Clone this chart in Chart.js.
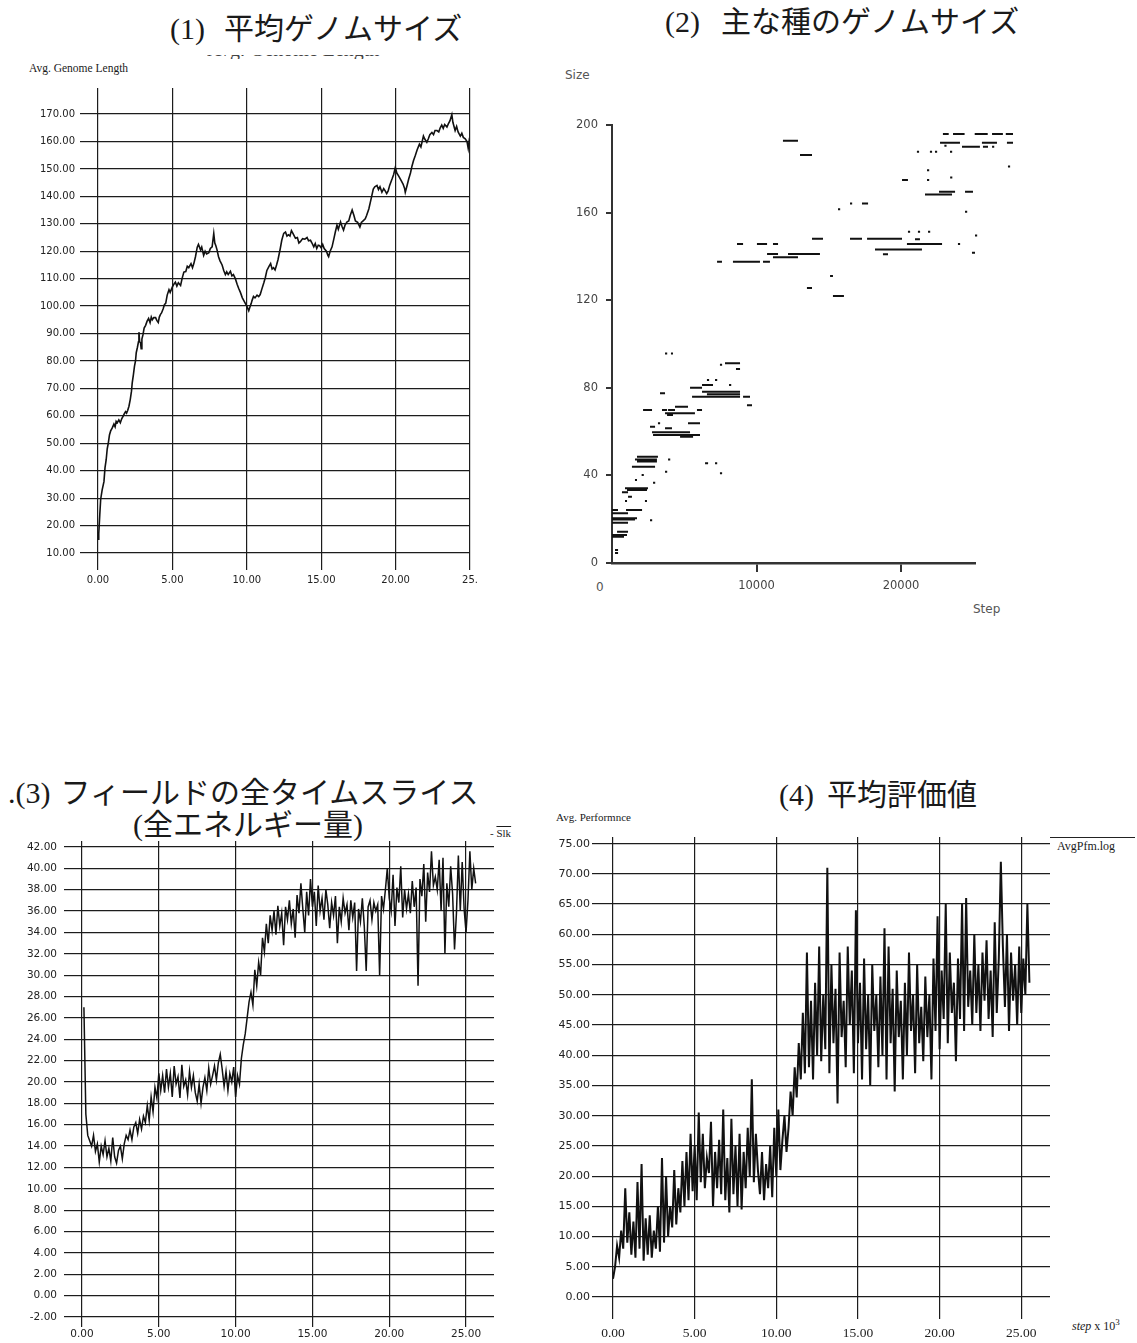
<!DOCTYPE html>
<html>
<head>
<meta charset="utf-8">
<script src="https://cdn.jsdelivr.net/npm/chart.js@4.4.1/dist/chart.umd.min.js"></script>
<style>
  body { margin: 0; background: #fff; }
  #page { position: relative; width: 1137px; height: 1343px; overflow: hidden; background: #fff; }
  .box { position: absolute; }
  .txt { position: absolute; white-space: nowrap; color: #1a1a1a; }
  .title { font-family: "Liberation Serif", "Noto Sans CJK JP", serif; font-size: 30px; line-height: 30px; }
  .small { font-family: "Liberation Serif", serif; font-size: 11.5px; line-height: 12px; }
  .dot { font-family: "DejaVu Sans", sans-serif; font-size: 12px; line-height: 14px; color: #555; }
</style>
</head>
<body>
<div id="page">
  <!-- titles -->
  <div class="txt title" style="left:170px;top:14px">(1)<span style="margin-left:19px">平均ゲノムサイズ</span></div>
  <div class="txt title" style="left:665px;top:7px">(2)<span style="margin-left:21px">主な種のゲノムサイズ</span></div>
  <div class="txt title" style="left:8px;top:778px">.(3)<span style="margin-left:10px">フィールドの全タイムスライス</span></div>
  <div class="txt title" style="left:133px;top:810px">(全エネルギー量)</div>
  <div class="txt title" style="left:779px;top:780px">(4)<span style="margin-left:13px">平均評価値</span></div>

  <!-- cut-off caption under title 1 -->
  <div style="position:absolute;left:207px;top:55px;width:180px;height:4px;overflow:hidden">
    <div style="position:absolute;left:0;top:-16px;white-space:nowrap;font-family:'Liberation Serif',serif;font-size:20px;line-height:20px;color:#444">Avg. Genome Length</div>
  </div>

  <!-- axis captions -->
  <div class="txt small" style="left:29px;top:62px">Avg. Genome Length</div>
  <div class="txt dot" style="left:565px;top:68px">Size</div>
  <div class="txt dot" style="left:973px;top:602px">Step</div>
  <div class="txt dot" style="left:596px;top:580px">0</div>
  <div class="txt small" style="left:490px;top:827px;font-size:11px">- <span style="text-decoration:overline">Slk</span></div>
  <div class="txt small" style="left:556px;top:811px;font-size:11px">Avg. Performnce</div>
  <div style="position:absolute;left:1050px;top:837px;width:85px;height:1px;background:#222"></div>
  <div class="txt small" style="left:1057px;top:840px;font-size:12px">AvgPfm.log</div>
  <div class="txt small" style="left:1072px;top:1316px;font-size:12px"><i>step</i> x 10<sup style="font-size:9px">3</sup></div>

  <div class="box" style="left:0;top:68px;width:500px;height:530px"><canvas id="c1"></canvas></div>
  <div class="box" style="left:540px;top:100px;width:597px;height:510px"><canvas id="c2"></canvas></div>
  <div class="box" style="left:0;top:821px;width:520px;height:522px"><canvas id="c3"></canvas></div>
  <div class="box" style="left:540px;top:817px;width:597px;height:526px"><canvas id="c4"></canvas></div>
</div>
<script>
// (1) average genome length, step x 10^3
const genomeStep = [0.0, 0.05, 0.12, 0.18, 0.28, 0.4, 0.47, 0.55, 0.62, 0.69, 0.77, 0.85, 0.95, 1.07, 1.15, 1.22, 1.3, 1.4, 1.5, 1.6,
  1.7, 1.77, 1.85, 1.92, 2.0, 2.08, 2.17, 2.25, 2.3, 2.38, 2.45, 2.52, 2.57, 2.65, 2.72, 2.75, 2.8, 2.86, 2.9, 2.95,
  3.02, 3.1, 3.2, 3.3, 3.4, 3.5, 3.58, 3.65, 3.75, 3.87, 3.95, 4.05, 4.12, 4.2, 4.27, 4.38, 4.47, 4.55, 4.65, 4.77,
  4.85, 5.0, 5.1, 5.2, 5.3, 5.4, 5.55, 5.65, 5.77, 5.9, 6.0, 6.1, 6.25, 6.35, 6.44, 6.55, 6.67, 6.75, 6.89, 6.97,
  7.1, 7.2, 7.3, 7.45, 7.55, 7.67, 7.78, 7.85, 7.92, 8.0, 8.1, 8.2, 8.34, 8.45, 8.56, 8.65, 8.75, 8.9, 9.0, 9.1,
  9.23, 9.35, 9.45, 9.57, 9.7, 9.8, 9.9, 10.0, 10.13, 10.2, 10.3, 10.35, 10.45, 10.55, 10.69, 10.8, 10.9, 11.0, 11.15, 11.25,
  11.35, 11.5, 11.6, 11.7, 11.8, 11.9, 12.0, 12.1, 12.25, 12.35, 12.48, 12.6, 12.7, 12.8, 12.9, 13.0, 13.1, 13.27, 13.4, 13.5,
  13.6, 13.75, 13.9, 14.05, 14.15, 14.28, 14.38, 14.5, 14.6, 14.7, 14.8, 14.9, 15.0, 15.1, 15.2, 15.35, 15.45, 15.5, 15.6, 15.73,
  15.85, 15.95, 16.06, 16.15, 16.3, 16.4, 16.5, 16.6, 16.74, 16.85, 16.95, 17.08, 17.2, 17.3, 17.45, 17.6, 17.7, 17.8, 17.96, 18.05,
  18.2, 18.35, 18.5, 18.6, 18.75, 18.85, 18.95, 19.08, 19.2, 19.3, 19.4, 19.5, 19.6, 19.76, 19.87, 19.98, 20.08, 20.2, 20.35, 20.5,
  20.6, 20.65, 20.75, 20.88, 21.0, 21.1, 21.2, 21.33, 21.45, 21.6, 21.7, 21.87, 21.95, 22.1, 22.2, 22.3, 22.44, 22.55, 22.65, 22.78,
  22.9, 23.0, 23.1, 23.2, 23.3, 23.45, 23.55, 23.65, 23.78, 23.85, 24.0, 24.1, 24.2, 24.35, 24.45, 24.55, 24.68, 24.8, 24.88, 24.95, 25.0];
const genomeLen = [15, 17, 24, 29.6, 33, 36, 41, 44, 48, 50, 53, 54.5, 55.5, 57, 56, 58, 57.5, 58.5, 57.5, 59,
  60, 60.8, 61.5, 61, 62, 63.5, 66, 69, 72, 75, 78, 80, 83, 85, 87, 90.5, 87, 86.6, 84.5, 88,
  89.5, 92, 93, 94.5, 95.5, 94, 96, 95, 95.8, 95.8, 94.8, 94, 96, 97, 97.5, 99, 100.6, 101, 104, 106,
  105, 107, 108, 108.7, 107.3, 108.5, 107.5, 110, 112.4, 112.6, 114.5, 114, 115.5, 114, 115.5, 118, 121.5, 122.5, 120.5, 121.5,
  118.5, 120, 119, 119.5, 121, 121.6, 126.5, 123, 122, 120.5, 118, 116.5, 115, 113, 111.5, 112.5, 111.5, 112.7, 111, 111.5,
  110, 108, 106.5, 105, 103, 102, 101, 100, 98.3, 99.5, 101, 102, 103.5, 103, 104, 103.5, 104.2, 106, 108.6, 110.5,
  113, 114.6, 115.5, 113.5, 114, 113.2, 115, 117, 121, 124, 126.5, 127, 125.5, 126, 125.5, 127.5, 126.5, 124.7, 125, 123,
  123.5, 124.6, 124.4, 125, 123.8, 124, 123, 121.6, 122.8, 121, 122.2, 122, 121.2, 122.5, 121, 120, 118.5, 118, 120, 121.6,
  124.5, 127, 129.5, 128, 130.7, 129, 127.7, 129.5, 130.7, 131, 133, 135, 133, 131, 130.5, 128.8, 130.5, 131, 131.8, 133,
  135.4, 139, 142.7, 143.5, 144, 142.5, 143.5, 141.5, 142.8, 142, 141, 142, 144, 146.3, 148, 150.5, 148.5, 147.5, 146, 144.5,
  143, 141.5, 143.5, 146.3, 148.5, 151, 153, 155, 157, 159, 158, 162, 161, 159.7, 161, 162.5, 163.3, 162.5, 164, 164,
  163.5, 165, 166, 164.8, 166.2, 165.3, 166.5, 167.5, 169.8, 167, 164, 165.5, 163.5, 162, 163, 161.5, 161, 160, 157.5, 160.5, 160];
const genomeXTicks = [0, 5, 10, 15, 20, 25];
const genomeXLabels = ["0.00", "5.00", "10.00", "15.00", "20.00", "25."];
const genomeYTicks = [10, 20, 30, 40, 50, 60, 70, 80, 90, 100, 110, 120, 130, 140, 150, 160, 170];

// (2) genome size of main species: [from step, to step, size]
const speciesSegs = [
  [22900, 23300, 195.9], [23600, 24400, 195.9], [25100, 26000, 195.9], [26300, 27050, 195.9], [27250, 27750, 195.9],
  [22700, 24080, 191.9], [25600, 26640, 191.9], [27330, 27750, 191.9], [11830, 12870, 192.8],
  [24220, 25460, 190.1], [25670, 26020, 190.1], [26300, 26450, 190.1], [23000, 23150, 190.5],
  [21100, 21250, 187.8], [22000, 22150, 187.8], [22350, 22500, 187.8], [23390, 23540, 187.8],
  [13010, 13840, 186.3], [27400, 27550, 181], [21800, 21950, 179.3],
  [20070, 20480, 174.9], [21800, 21950, 174.9], [23400, 23550, 176],
  [22630, 23740, 169.5], [24430, 24980, 169.5], [21660, 23530, 168.3],
  [16470, 16620, 164.2], [17300, 17720, 164.2], [15640, 15790, 161.5], [24430, 24580, 160.4],
  [20480, 20630, 151.3], [21170, 21320, 151.3], [21870, 22020, 151.3], [25120, 25270, 149.5],
  [13840, 14600, 148.1], [16470, 17300, 148.1], [17650, 20070, 148.1], [20970, 21310, 147.8],
  [8650, 9070, 145.7], [10030, 10730, 145.7], [11140, 11490, 145.7], [20410, 22840, 145.7], [23940, 24090, 145.7],
  [18200, 21450, 143.2], [24910, 25120, 141.7],
  [10730, 11490, 141.1], [12180, 14390, 141.1], [18750, 19100, 141], [11140, 12870, 139.6],
  [7270, 7610, 137.6], [8370, 10240, 137.6], [10450, 10930, 137.6],
  [15090, 15290, 131], [13490, 13840, 125.6], [15290, 16050, 121.9],
  [3670, 3820, 95.7], [4080, 4220, 95.7], [7470, 7620, 90.5], [7820, 8860, 91.2], [8580, 8860, 88.6],
  [6570, 6720, 83.6], [7130, 7280, 83.6], [6230, 6990, 81.3], [8100, 8250, 81.3], [5400, 6230, 80],
  [6230, 8860, 78.2], [3320, 3670, 77.5], [6570, 8860, 77], [5540, 8860, 75.9], [9070, 9550, 75.9],
  [9340, 9690, 72], [4360, 5260, 71.4],
  [2150, 2770, 69.9], [3460, 3810, 69.9], [3880, 4360, 69.9], [5880, 6230, 69.9],
  [3670, 5740, 68.4], [3810, 4220, 67.6], [3180, 3330, 63.8], [5260, 6090, 63.8], [2630, 2980, 62.2], [3670, 4150, 61.5],
  [2770, 5400, 59.7], [2840, 6090, 58.4], [4710, 5610, 57.7],
  [1730, 3180, 48.5], [1590, 3110, 47.3], [3880, 4030, 47.3], [1730, 3110, 46.3], [6440, 6650, 45.5], [7130, 7280, 45.5],
  [1380, 2980, 44], [3670, 3820, 41.7], [7470, 7620, 41], [2050, 2200, 40.2], [1590, 1730, 37.9], [2840, 2990, 36.6],
  [900, 2490, 34.1], [1040, 2420, 33.3], [690, 1110, 32.3], [1110, 1380, 30.3], [900, 1040, 28.3], [2280, 2420, 28.3],
  [0, 415, 24.2], [970, 2080, 24.2], [0, 1110, 22.7], [0, 1730, 20.4], [0, 1590, 19.9], [2630, 2780, 19.5], [0, 1110, 18.4],
  [350, 1110, 14.3], [0, 1040, 12.8], [0, 830, 12], [210, 420, 5.9], [210, 420, 4.6]
];
const speciesXTicks = [10000, 20000];
const speciesYTicks = [0, 40, 80, 120, 160, 200];

// (3) total energy of the field (Slk), sampled every 0.125 x 10^3 steps
const slkStart = 0.125, slkStep = 0.125;
const slk = [
  27.0, 17.0, 15.0, 14.5, 14.0, 15.0, 13.5, 14.2,
  12.5, 14.0, 13.2, 14.5, 13.0, 13.8, 12.6, 14.8,
  13.0, 12.4, 13.6, 14.0, 12.8, 14.2, 15.0, 14.6,
  15.5, 14.6, 15.8, 16.2, 15.2, 16.5, 15.6, 16.8,
  16.2, 17.8, 16.4, 18.6, 17.2, 19.5, 18.5, 20.8,
  19.2, 20.6, 19.0, 21.2, 19.5, 20.8, 18.6, 21.5,
  19.8, 20.5, 18.5, 21.6, 19.6, 20.2, 18.8, 21.0,
  19.5, 20.6, 19.0, 18.2, 19.8, 18.0, 19.5, 20.4,
  19.2, 21.3, 19.8, 20.6, 21.5, 20.2, 21.8, 22.6,
  21.2, 19.6, 21.0, 19.2, 20.8, 20.0, 21.4, 18.6,
  20.6, 19.8, 22.2, 23.5, 24.5, 26.0, 27.5, 28.4,
  27.2, 30.5, 29.0, 31.2, 30.0, 33.5, 32.2, 34.8,
  33.0, 35.6, 34.2, 36.0, 33.8, 36.5, 34.6, 35.8,
  32.8, 36.4, 35.2, 37.0, 34.8, 36.2, 33.5, 37.5,
  35.8, 38.6, 36.2, 34.0, 37.8, 35.6, 39.0, 36.4,
  37.8, 34.6, 38.4, 36.0, 37.2, 35.2, 38.0, 36.6,
  34.4, 36.8, 35.6, 37.4, 33.0, 36.4, 35.0, 37.2,
  35.8, 36.6, 34.2, 37.0, 35.4, 36.8, 30.4, 36.2,
  35.0, 37.2, 34.6, 30.4, 36.4, 37.0, 35.2, 36.8,
  36.0, 36.6, 30.0, 37.4, 36.2, 38.0, 40.0, 37.2,
  36.0, 39.4, 34.6, 38.2, 36.8, 40.2, 35.4, 38.0,
  36.2, 37.6, 35.8, 38.8, 36.4, 38.2, 29.0, 39.0,
  37.4, 40.4, 35.0, 39.6, 37.8, 41.6, 38.4, 39.2,
  38.0, 40.8, 36.0, 41.0, 32.0, 38.6, 36.4, 40.2,
  37.6, 32.4, 35.8, 41.2, 36.0, 40.6, 36.2, 34.0,
  37.0, 41.6, 38.0, 40.0, 38.6
];
const slkXTicks = [0, 5, 10, 15, 20, 25];
const slkYTicks = [-2, 0, 2, 4, 6, 8, 10, 12, 14, 16, 18, 20, 22, 24, 26, 28, 30, 32, 34, 36, 38, 40, 42];

// (4) average performance, sampled every 0.125 x 10^3 steps
const pfmStart = 0, pfmStep = 0.125;
const pfm = [
  3.0, 5.0, 8.5, 6.5, 11.0, 8.0, 18.0, 9.0,
  14.0, 7.0, 12.5, 6.5, 19.0, 8.0, 22.0, 6.0,
  13.0, 7.0, 13.5, 6.5, 11.0, 8.0, 15.0, 7.5,
  23.0, 9.0, 20.0, 10.0, 15.0, 11.5, 21.0, 12.0,
  18.0, 14.0, 22.5, 15.0, 24.0, 16.0, 27.0, 17.5,
  25.0, 16.0, 30.5, 19.0, 27.0, 18.0, 23.0, 20.5,
  29.0, 15.0, 24.0, 18.0, 26.0, 17.0, 31.0, 16.0,
  23.0, 14.0, 29.5, 17.0, 25.0, 15.0, 27.0, 14.5,
  24.0, 18.0, 28.0, 20.0, 36.0, 19.0, 27.0, 21.0,
  17.0, 24.0, 16.0, 22.0, 18.0, 25.0, 16.5, 28.0,
  20.0, 31.0, 21.0, 26.0, 30.0, 24.0, 28.0, 34.0,
  30.0, 38.0, 33.0, 42.0, 36.0, 47.0, 37.0, 57.0,
  38.0, 49.0, 36.0, 52.0, 40.0, 58.0, 39.0, 50.0,
  41.0, 71.0, 37.0, 55.0, 42.0, 51.0, 32.0, 57.0,
  43.0, 49.0, 38.0, 58.0, 45.0, 54.0, 37.0, 64.0,
  42.0, 52.0, 36.0, 56.0, 41.0, 50.0, 35.0, 55.0,
  44.0, 50.0, 38.0, 53.0, 40.0, 61.0, 36.0, 58.0,
  42.0, 51.0, 34.0, 54.0, 43.0, 49.0, 36.0, 52.0,
  40.0, 57.0, 44.0, 50.0, 37.0, 55.0, 42.0, 48.0,
  39.0, 53.0, 43.0, 50.0, 36.0, 56.0, 44.0, 63.0,
  41.0, 54.0, 46.0, 65.0, 42.0, 57.0, 47.0, 52.0,
  39.0, 56.0, 46.0, 65.0, 44.0, 66.0, 48.0, 54.0,
  45.0, 60.0, 47.0, 55.0, 44.0, 57.0, 49.0, 59.0,
  46.0, 54.0, 43.0, 62.0, 47.0, 56.0, 72.0, 58.0,
  48.0, 60.0, 44.0, 57.0, 49.0, 55.0, 45.0, 58.0,
  47.0, 56.0, 50.0, 65.0, 52.0
];
const pfmXTicks = [0, 5, 10, 15, 20, 25];
const pfmYTicks = [0, 5, 10, 15, 20, 25, 30, 35, 40, 45, 50, 55, 60, 65, 70, 75];

const lineCol = "#1c1c1c";
const fixTicks = (arr) => (s) => { s.ticks = arr.map((v) => ({ value: v })); };
const noPlugins = { legend: { display: false }, tooltip: { enabled: false } };

function gridAxis(o) {
  return {
    type: "linear",
    min: o.min,
    max: o.max,
    afterBuildTicks: fixTicks(o.ticks),
    afterFit: (s) => { if (o.width) s.width = o.width; if (o.height) s.height = o.height; },
    ticks: {
      autoSkip: false, maxRotation: 0, padding: o.pad, color: "#222",
      font: o.font,
      callback: o.labels ? (v, i) => o.labels[i] : (v) => v.toFixed(2)
    },
    grid: { color: lineCol, lineWidth: 1.2, tickLength: o.tick, tickColor: lineCol },
    border: { display: false }
  };
}

// chart 1
new Chart(document.getElementById("c1"), {
  type: "line",
  data: {
    datasets: [{
      data: genomeStep.map((x, i) => ({ x: x, y: genomeLen[i] })),
      borderColor: "#111", borderWidth: 1.6, pointRadius: 0, tension: 0
    }]
  },
  options: {
    animation: false, responsive: true, maintainAspectRatio: false,
    layout: { padding: { top: 20, right: 30, left: 0, bottom: 0 } },
    plugins: noPlugins,
    scales: {
      x: gridAxis({ min: 0, max: 25, ticks: genomeXTicks, labels: genomeXLabels, height: 45, tick: 17, pad: 4,
        font: { family: "DejaVu Sans", size: 10 } }),
      y: gridAxis({ min: 10, max: 179.5, ticks: genomeYTicks, width: 98, tick: 18, pad: 5,
        font: { family: "DejaVu Sans", size: 10 } })
    }
  }
});

// chart 2
const segPts = [];
speciesSegs.forEach((s) => {
  segPts.push({ x: s[0], y: s[2] }, { x: s[1], y: s[2] }, { x: s[1], y: null });
});
new Chart(document.getElementById("c2"), {
  type: "line",
  data: {
    datasets: [{
      data: segPts, borderColor: "#111", borderWidth: 2, pointRadius: 0,
      spanGaps: false, clip: false, tension: 0
    }]
  },
  options: {
    animation: false, responsive: true, maintainAspectRatio: false,
    layout: { padding: { top: 25, right: 162, left: 0, bottom: 0 } },
    plugins: noPlugins,
    scales: {
      x: {
        type: "linear", min: 0, max: 25120,
        afterBuildTicks: fixTicks(speciesXTicks),
        afterFit: (s) => { s.height = 47; },
        ticks: { autoSkip: false, maxRotation: 0, padding: 7, color: "#444",
          font: { family: "DejaVu Sans", size: 11.5 }, callback: (v) => String(v) },
        grid: { drawOnChartArea: false, tickLength: 9, tickColor: "#333", lineWidth: 2 },
        border: { display: true, color: "#333", width: 2.5 }
      },
      y: {
        type: "linear", min: 0, max: 200,
        afterBuildTicks: fixTicks(speciesYTicks),
        afterFit: (s) => { s.width = 72; },
        ticks: { autoSkip: false, padding: 8, color: "#444",
          font: { family: "DejaVu Sans", size: 11.5 }, callback: (v) => String(v) },
        grid: { drawOnChartArea: false, tickLength: 6, tickColor: "#333", lineWidth: 2 },
        border: { display: true, color: "#333", width: 2 }
      }
    }
  }
});

// chart 3
new Chart(document.getElementById("c3"), {
  type: "line",
  data: {
    datasets: [{
      data: slk.map((v, i) => ({ x: slkStart + i * slkStep, y: v })),
      borderColor: "#111", borderWidth: 1.5, pointRadius: 0, tension: 0
    }]
  },
  options: {
    animation: false, responsive: true, maintainAspectRatio: false,
    layout: { padding: { top: 20, right: 26, left: 0, bottom: 0 } },
    plugins: noPlugins,
    scales: {
      x: gridAxis({ min: 0, max: 26.82, ticks: slkXTicks, height: 26, tick: 10, pad: 1,
        font: { family: "DejaVu Sans", size: 10.5 } }),
      y: gridAxis({ min: -2, max: 42.56, ticks: slkYTicks, width: 82, tick: 18, pad: 7,
        font: { family: "DejaVu Sans", size: 10.5 } })
    }
  }
});

// chart 4
new Chart(document.getElementById("c4"), {
  type: "line",
  data: {
    datasets: [{
      data: pfm.map((v, i) => ({ x: pfmStart + i * pfmStep, y: v })),
      borderColor: "#111", borderWidth: 2, pointRadius: 0, tension: 0
    }]
  },
  options: {
    animation: false, responsive: true, maintainAspectRatio: false,
    layout: { padding: { top: 20, right: 87, left: 0, bottom: 0 } },
    plugins: noPlugins,
    scales: {
      x: gridAxis({ min: 0, max: 26.76, ticks: pfmXTicks, height: 46, tick: 22, pad: 6,
        font: { family: "Liberation Serif", size: 13.5 } }),
      y: gridAxis({ min: 0, max: 76.1, ticks: pfmYTicks, width: 73, tick: 21, pad: 2,
        font: { family: "DejaVu Sans", size: 11 } })
    }
  }
});
</script>
</body>
</html>
